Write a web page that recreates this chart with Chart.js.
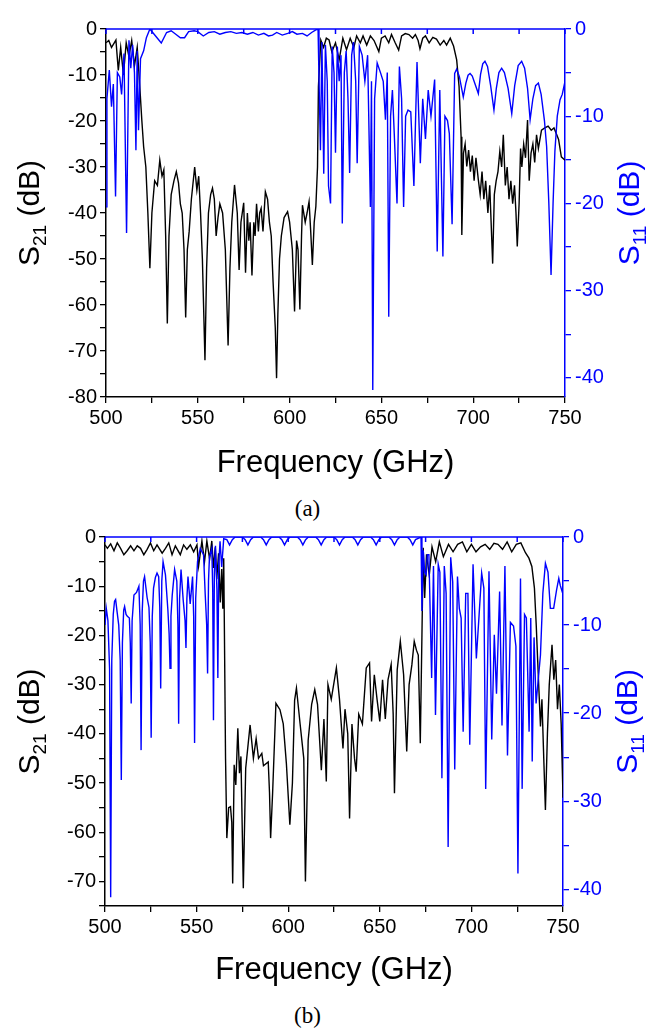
<!DOCTYPE html>
<html>
<head>
<meta charset="utf-8">
<script src="https://cdn.jsdelivr.net/npm/chart.js@4.4.1/dist/chart.umd.min.js"></script>
<style>
  body { margin: 0; background: #fff; }
  #page { position: relative; width: 649px; height: 1032px; background: #fff; }
  canvas { position: absolute; left: 0; }
  .cap { position: absolute; left: -17px; width: 649px; text-align: center;
         font-family: "Liberation Serif", "Times New Roman", serif; font-size: 23px; line-height: 24px; }
</style>
</head>
<body>
<div id="page">
  <canvas id="chartA" width="649" height="482" style="top:0px"></canvas>
  <div class="cap" style="top:497px">(a)</div>
  <canvas id="chartB" width="649" height="482" style="top:507px"></canvas>
  <div class="cap" style="top:1004px">(b)</div>
</div>
<script>
Chart.defaults.font.family = '"Liberation Sans", Arial, sans-serif';
Chart.defaults.color = '#000';

const BLUE = '#0000ff';

// (a) S21, frequency in GHz and value in dB
const freqA21 = [
  500, 501.5, 503, 504.5, 505.4, 506.7, 508, 509.5, 511, 512.5,
  514, 515.5, 517, 518.4, 519.5, 520.5, 521.7, 522.8, 523.9, 525,
  526.5, 528, 529.3, 530.5, 531.5, 532.5, 533.4, 534.3, 535.5, 537,
  538.3, 539.5, 540.5, 541.5, 542.5, 543.4, 544.3, 545.3, 546.5, 548.3,
  549.5, 550.5, 551.5, 552.5, 553.9, 554.8, 555.8, 557, 558, 559,
  560, 561, 562, 563.5, 565, 566.5, 567.5, 568.5, 570, 571.5,
  572.5, 573.5, 575, 576, 577, 577.8, 578.5, 579.5, 580.5, 581.2,
  582, 583, 583.7, 584.5, 585.5, 586.8, 588, 589, 590, 591,
  592.2, 592.9, 593.6, 594.5, 595.5, 597, 598.9, 600, 601.5, 602.7,
  603.8, 604.6, 605.6, 606.5, 607, 608.5, 609.5, 610.6, 611.5, 612.4,
  613.4, 614.3, 615.2, 615.7, 617, 618.5, 620, 621.5, 623, 625,
  627, 629, 631, 633, 635, 636.5, 638.5, 640, 642, 644,
  646, 648.6, 650, 652, 654, 655.5, 657.5, 659.4, 661, 663,
  665, 667, 668.5, 670, 671, 672.5, 674, 676, 678, 680,
  682, 684, 685.5, 687.5, 689.3, 691, 692.3, 693.4, 693.8, 694.7,
  695.6, 696.5, 697.5, 698.5, 699.5, 700.5, 701.5, 702.8, 703.8, 704.8,
  705.8, 706.8, 708, 709, 710.6, 711.5, 712.5, 713.5, 714.5, 715.5,
  716.4, 717.5, 718.5, 719.5, 720.5, 721.5, 722.5, 723.3, 724, 725,
  725.8, 726.5, 727.5, 728.5, 729.6, 730.5, 731.5, 732.5, 733.5, 734.5,
  735.5, 737.2, 739, 740.8, 742.5, 744, 745.5, 746.5, 748, 750
];
const s21A = [
  -3, -2.5, -4, -3, -2.4, -9, -4, -10, -3, -6,
  -2.5, -8, -4, -12.5, -19.8, -25.6, -30, -40, -52, -40,
  -33, -34, -28.5, -32, -30.6, -45, -64, -45, -36, -33,
  -31, -33.5, -38, -40, -48, -62.7, -48, -44, -37, -30,
  -35, -32, -40, -50, -72, -52, -40, -36, -34.6, -37,
  -45, -41, -38, -40, -48, -68.8, -52, -42, -33.9, -40,
  -52.4, -42, -37.8, -53, -40, -46, -42, -53.6, -42, -45,
  -38, -44, -40, -39, -44, -35.4, -37, -42, -45, -55,
  -65, -75.9, -62, -50, -45, -41, -39.7, -42, -48, -61.4,
  -46, -48, -61, -45, -38.3, -42, -40, -37.5, -44, -51.3,
  -42, -38.6, -30, -12.5, -2.4, -4, -2, -2.4, -5, -3,
  -6.7, -2, -4.5, -2, -4, -1.5, -3, -1.5, -3.5, -1.5,
  -2.5, -4.9, -2, -1.5, -3, -1.2, -3, -4.6, -1.5, -1,
  -1.2, -2, -1.2, -2.5, -4.3, -2, -1.5, -3, -1.8, -2.2,
  -3.5, -2.5, -3.5, -2, -3.7, -6.7, -12.5, -23.4, -44.8, -27,
  -25, -29.9, -26.3, -31, -27.5, -33, -28, -32.8, -36, -31,
  -37, -33, -40, -34, -51, -36, -33, -31, -26.6, -30,
  -23, -34, -30, -37, -33, -38, -34, -40, -47.3, -38,
  -26, -30, -25, -28, -19.8, -33, -27, -25, -29, -23,
  -26, -22, -21.5, -21.1, -22, -21.5, -23, -24, -27.8, -28.5
];

// (a) S11
const freqA11 = [
  500, 500.5, 501.8, 503, 504, 505.2, 506.2, 507.5, 508.5, 509.8,
  511.2, 512.5, 513.5, 514.5, 515.5, 516.3, 517, 517.7, 518.8, 520.5,
  522, 523.9, 527, 530.1, 533, 535.5, 538, 540.5, 542.8, 545,
  548, 550, 553, 556, 559, 562, 565, 568, 571, 574,
  577, 580, 583, 586, 588.5, 590.7, 593, 596, 599, 601.5,
  604, 607, 609.5, 612, 614.3, 615.5, 616, 616.8, 617.6, 618.6,
  619.5, 620.5, 621.2, 622.3, 623.2, 624.2, 625, 626, 627, 628,
  628.7, 629.8, 630.8, 631.8, 632.7, 633.8, 634.8, 636, 636.8, 638,
  639.5, 641, 642.5, 644, 644.6, 645.3, 646.3, 647.7, 649.5, 651,
  652.2, 653.2, 654, 655, 656, 657, 658.5, 659.8, 661, 662.1,
  663.2, 664.5, 666, 667.7, 669.4, 671.2, 672.5, 674, 675.5, 677,
  679, 680.4, 681.8, 683.5, 684.6, 686, 687, 688.5, 689.9, 691,
  692.5, 694.6, 696, 697.2, 698.3, 699.5, 701, 702.8, 704, 705.2,
  706.4, 707.8, 709.5, 711.3, 712.6, 714, 715.5, 717, 719, 721,
  722.6, 724.5, 726.4, 728, 729.6, 731, 732.5, 734, 735.5, 737,
  738.8, 740, 741.2, 742.4, 743.5, 744.5, 745.8, 747.3, 748.5, 750
];
const s11A = [
  -20.4, -8, -4.7, -8.9, -6.3, -19.2, -5, -5.5, -7.5, -2.8,
  -23.4, -1.3, -4.5, -1.8, -5, -13.9, -2.5, -11.6, -3.4, -2.5,
  -1, 0, -0.8, -1.6, -0.4, -0.2, -0.6, -1, -1, -0.3,
  -0.2, -0.3, -0.8, -0.4, -0.3, -0.6, -0.4, -0.3, -0.5, -0.4,
  -0.6, -0.4, -0.7, -0.5, -0.8, -0.7, -0.4, -0.7, -0.5, -0.3,
  -0.6, -0.5, -0.8, -0.4, -0.1, 0, -5.5, -13.9, -1.5, -16.6,
  -1.8, -6, -18, -20, -2, -5, -14.2, -2, -6, -3,
  -22.3, -5, -2.5, -8, -16.5, -3, -1.5, -6, -15.4, -2,
  -3, -6, -3, -20.4, -6, -41.4, -8, -3.9, -5, -6,
  -10.4, -5, -33, -10, -7, -12, -20, -4.3, -8, -20.4,
  -10, -9.3, -9.5, -18, -3.8, -15.4, -8, -12.6, -7, -10,
  -5.8, -25.5, -7, -26.1, -10, -10.5, -12, -22.4, -5.1, -4.6,
  -5.5, -7.8, -6.2, -5.3, -5.1, -5.4, -6.3, -7.4, -5.2, -4,
  -3.7, -4.3, -6.5, -9.3, -6.8, -5, -4.5, -5, -6.8, -9.7,
  -6.5, -4.2, -3.7, -4.5, -6.8, -10.4, -8, -6.5, -6.2, -7.5,
  -10.5, -13.5, -20, -28.2, -20, -14, -10, -8.1, -7.5, -6
];

// (b) S21
const freqB21 = [
  500, 501.3, 503.1, 504.9, 506.7, 508.5, 510.3, 512.1, 514, 515.8,
  517.6, 519.4, 521.2, 523, 524.8, 526.6, 528.4, 531.2, 533, 534.8,
  536.6, 538.4, 541.1, 542.9, 544.7, 546.6, 548.4, 550.2, 551.1, 552.9,
  554.3, 555.6, 557.1, 558.3, 559.2, 560.2, 561, 562, 562.9, 563.7,
  564.3, 564.8, 565.2, 565.8, 566.5, 567.5, 568.5, 569.2, 569.7, 570.5,
  571.4, 572.5, 573.4, 574.2, 575.5, 576.8, 579.2, 581, 582.5, 583.8,
  585.6, 586.5, 589.1, 589.8, 590.4, 591.5, 593.3, 595.5, 597.3, 599,
  600.9, 602.3, 603.5, 604.5, 606.5, 608.5, 609.4, 610.9, 612.8, 614.5,
  616, 618.1, 619.5, 620.8, 621.7, 623.5, 626.3, 628, 629.9, 631,
  632.5, 633.5, 634.8, 636.2, 637.1, 638.5, 640.5, 642.6, 644.4, 645.5,
  647, 648.5, 650, 651.5, 653, 654.5, 656.2, 657.3, 658, 659.5,
  661.2, 663, 664.7, 666, 667.5, 668.8, 670, 671, 672.1, 673,
  673.7, 674.5, 675.5, 677, 678.5, 680.5, 682.5, 684.7, 687.5, 690,
  692.5, 695.1, 697.5, 700, 702.5, 705, 707.5, 710, 712.3, 714.5,
  717, 719.5, 722, 724.5, 727, 729.5, 731.4, 733, 734.4, 735.4,
  736.2, 737.7, 738.5, 739.5, 740.4, 741.5, 742.5, 744, 745, 746,
  747, 748, 749, 750
];
const s21B = [
  -1.6, -2.3, -1.4, -2.8, -1.2, -2.3, -3.6, -2.8, -1.8, -2.8,
  -1.8, -2.3, -3.6, -2.5, -1.2, -2.8, -1.6, -3.3, -2.3, -1.2,
  -3.6, -1.8, -3.6, -1.6, -2.5, -1.6, -3, -1.6, -5.9, -0.8,
  -5.1, -0.8, -4.5, -0.8, -6.3, -2.1, -8.6, -3.3, -13.3, -6.5,
  -14.6, -4.3, -20, -45, -61.2, -55, -54.8, -58, -70.4, -46.3,
  -50.4, -38.9, -48, -44.6, -71.4, -47, -38.2, -45, -41, -45,
  -44, -46.5, -45.7, -52, -61.2, -52, -33.8, -35.1, -38, -46,
  -58.5, -50, -33.2, -30.7, -38, -45, -70, -41.3, -34, -31,
  -34, -47.4, -37, -49.7, -30, -33, -26.6, -33, -43, -35,
  -40, -57.2, -38, -45, -47.7, -36, -38, -26.6, -25.6, -37.5,
  -28, -33, -37.5, -29, -37, -29, -25.9, -36, -52.1, -27,
  -21.2, -28, -43.6, -30, -26, -21.2, -23, -24, -41.9, -20,
  -2.2, -12.4, -3.5, -7.8, -2, -5, -1, -4, -1.5, -3,
  -1.5, -1, -3, -1.5, -3, -2, -1.5, -2.5, -1.3, -1.5,
  -2.5, -1, -3, -1.5, -1.2, -3.2, -4.3, -6, -10.4, -18,
  -25.3, -38.5, -33, -45, -55.5, -40, -30, -21.9, -29, -25,
  -35, -30, -38, -53
];

// (b) S11
const freqB11 = [
  500, 500.7, 501.6, 502.5, 503.1, 503.7, 504.5, 505.2, 505.8, 506.6,
  507.5, 508.3, 508.9, 509.5, 510.2, 510.7, 511.5, 512.2, 513.3, 513.8,
  514.3, 514.8, 515.8, 517.2, 518.5, 519.2, 519.7, 520.3, 521, 521.6,
  523, 524, 524.7, 525.2, 525.8, 526.5, 527.5, 528.4, 529.3, 529.9,
  530.4, 531, 531.7, 533, 534.3, 535, 535.5, 536, 536.7, 538,
  539.2, 539.8, 540.2, 540.7, 541.5, 542.7, 543.7, 544.2, 544.7, 545.3,
  546.5, 547.8, 548.4, 548.9, 549.5, 550.5, 552, 553.8, 554.7, 555.5,
  556, 556.5, 557, 558.3, 558.8, 559.2, 559.7, 560.3, 561.1, 561.6,
  562.1, 562.8, 563.7, 564.8, 566.5, 568, 569.5, 571, 575, 576.5,
  578, 579.5, 581, 585, 586.5, 588, 589.5, 591, 595, 596.5,
  598, 599.5, 601, 605, 606.5, 608, 609.5, 611, 615, 616.5,
  618, 619.5, 621, 625, 626.5, 628, 629.5, 631, 635, 636.5,
  638, 639.5, 641, 645, 646.5, 648, 649.5, 651, 655, 656.5,
  658, 659.5, 661, 665, 666.5, 668, 669.5, 672.5, 673, 673.7,
  674.5, 675.3, 676, 676.8, 678.3, 679.3, 680.4, 681.9, 682.8, 683.9,
  685.2, 686.2, 687.3, 688.7, 689.8, 690.9, 692.4, 693.4, 694.4, 695.5,
  696.9, 698.1, 699.1, 700.9, 702.7, 704.1, 705.6, 706.8, 707.8, 709.6,
  711.1, 712.5, 713.7, 715.4, 716.7, 718.3, 719.7, 721.3, 723, 724.3,
  725.4, 726.8, 727.7, 729, 730, 731.5, 732.4, 733.2, 734.2, 735.3,
  737.7, 739, 740.4, 741.8, 743.1, 744.9, 746.5, 747.7, 748.5, 750
];
const s11B = [
  -10, -8.1, -9.5, -15, -40.9, -14, -8.8, -7.3, -7.1, -8.5,
  -10, -14, -27.6, -12, -8.3, -7.9, -8.8, -9, -9.2, -12,
  -18.9, -9.5, -6.6, -6.3, -5.6, -10, -24.2, -8.5, -5, -4.5,
  -6.9, -8, -12, -22.8, -9, -5.8, -4.6, -4.1, -4.5, -8,
  -17.2, -5, -2.8, -4.3, -8.2, -11, -14.9, -9, -6.6, -3.7,
  -5, -10, -21.2, -7, -3.7, -7.2, -9.5, -12.6, -7, -4.5,
  -7.6, -4.5, -9, -23.4, -7, -2.8, -1.3, -2, -6.5, -10,
  -15.5, -5, -2.3, -1.3, -6, -20.8, -4, -1, -6, -16,
  -3, -0.5, -3.4, -0.2, -0.3, -0.9, -0.3, 0, 0, -0.3,
  -0.9, -0.3, 0, 0, -0.3, -0.9, -0.3, 0, 0, -0.3,
  -0.9, -0.3, 0, 0, -0.3, -0.9, -0.3, 0, 0, -0.3,
  -0.9, -0.3, 0, 0, -0.3, -0.9, -0.3, 0, 0, -0.3,
  -0.9, -0.3, 0, 0, -0.3, -0.9, -0.3, 0, 0, -0.3,
  -0.9, -0.3, 0, 0, -0.3, -0.9, -0.3, 0, -8.4, -1.5,
  -4, -4.3, -2, -2, -16, -3.3, -20.2, -3.1, -4, -27.4,
  -3.3, -6.4, -35.2, -2.3, -5.1, -26.4, -4.5, -8.1, -9.2, -22.1,
  -6.4, -6.4, -23.6, -3.1, -13.8, -9.2, -4.1, -5.8, -28.6, -3.9,
  -23, -11.1, -17.8, -6.2, -21.4, -3.3, -24.8, -9.7, -10.1, -12.4,
  -38.2, -4.7, -28.6, -8.8, -9.2, -22.1, -9.2, -25.5, -11.4, -18.9,
  -13.4, -6.4, -3, -4, -8.1, -8.1, -6, -4.7, -5.5, -6.5
];

function pairs(xs, ys) {
  return xs.map((x, i) => ({ x: x, y: ys[i] }));
}

// rotated axis title "S" + subscript + " (dB)"
function drawRotTitle(ctx, sub, x, cy, color) {
  const big = '30px "Liberation Sans", Arial, sans-serif';
  const small = '19px "Liberation Sans", Arial, sans-serif';
  ctx.save();
  ctx.translate(x, cy);
  ctx.rotate(-Math.PI / 2);
  ctx.fillStyle = color;
  ctx.textBaseline = 'alphabetic';
  ctx.textAlign = 'left';
  ctx.font = big;
  const w1 = ctx.measureText('S').width;
  const w3 = ctx.measureText(' (dB)').width;
  ctx.font = small;
  const w2 = ctx.measureText(sub).width;
  let px = -(w1 + w2 + w3) / 2;
  ctx.font = big;
  ctx.fillText('S', px, 0);
  ctx.font = small;
  ctx.fillText(sub, px + w1, 7);
  ctx.font = big;
  ctx.fillText(' (dB)', px + w1 + w2, 0);
  ctx.restore();
}

const frameAndTitles = {
  id: 'frameAndTitles',
  afterDatasetsDraw(chart) {
    const ctx = chart.ctx, area = chart.chartArea, xs = chart.scales.x;
    ctx.save();
    ctx.strokeStyle = BLUE;
    ctx.lineWidth = 1.5;
    ctx.beginPath();
    ctx.moveTo(area.left, area.top);
    ctx.lineTo(area.right, area.top);
    xs.ticks.forEach(t => {
      const px = xs.getPixelForValue(t.value);
      ctx.moveTo(px, area.top);
      ctx.lineTo(px, area.top + 5);
    });
    ctx.stroke();
    ctx.restore();
  },
  afterDraw(chart, args, opts) {
    const area = chart.chartArea;
    const cy = (area.top + area.bottom) / 2;
    drawRotTitle(chart.ctx, '21', opts.leftX, cy, '#000');
    drawRotTitle(chart.ctx, '11', area.right + opts.rightGap, cy, BLUE);
  }
};

function makeChart(id, s21, s11, box) {
  const H = 482;
  const tickFont = { size: 20 };
  return new Chart(document.getElementById(id), {
    type: 'line',
    data: {
      datasets: [
        { data: s11, yAxisID: 'y2', borderColor: BLUE, borderWidth: 1.4,
          pointRadius: 0, tension: 0, order: 0 },
        { data: s21, yAxisID: 'y', borderColor: '#000', borderWidth: 1.4,
          pointRadius: 0, tension: 0, order: 1 }
      ]
    },
    options: {
      responsive: false,
      animation: false,
      events: [],
      layout: { padding: { top: box.top, left: 0, right: 0, bottom: 0 } },
      plugins: {
        legend: { display: false },
        tooltip: { enabled: false },
        frameAndTitles: { leftX: 39, rightGap: 74 }
      },
      scales: {
        x: {
          type: 'linear', min: 500, max: 750,
          afterFit: s => { s.height = H - box.bottom; },
          ticks: {
            stepSize: 25, autoSkip: false, maxRotation: 0, font: tickFont,
            color: '#000', padding: 3,
            callback: v => (v % 50 === 0 ? v : '')
          },
          grid: { drawOnChartArea: false, color: '#000', tickLength: 6, lineWidth: 1.3 },
          border: { color: '#000', width: 1.5 },
          title: { display: true, text: 'Frequency (GHz)', font: { size: 31 },
                   color: '#000', padding: 0 }
        },
        y: {
          position: 'left', min: box.yMin, max: 0,
          afterFit: s => { s.width = box.left; },
          ticks: {
            stepSize: 5, autoSkip: false, includeBounds: false, font: tickFont,
            color: '#000', padding: 3,
            callback: v => (v % 10 === 0 ? v : '')
          },
          grid: { drawOnChartArea: false, color: '#000', tickLength: 6, lineWidth: 1.3 },
          border: { color: '#000', width: 1.5 }
        },
        y2: {
          position: 'right', min: box.y2Min, max: 0,
          afterFit: s => { s.width = 649 - box.right; },
          ticks: {
            stepSize: 5, autoSkip: false, includeBounds: false, font: tickFont,
            color: BLUE, padding: 4,
            callback: v => (v % 10 === 0 ? v : '')
          },
          grid: { drawOnChartArea: false, color: BLUE, tickLength: 6, lineWidth: 1.3 },
          border: { color: BLUE, width: 1.5 }
        }
      }
    },
    plugins: [frameAndTitles]
  });
}

makeChart('chartA', pairs(freqA21, s21A), pairs(freqA11, s11A),
  { top: 29, bottom: 397, left: 106, right: 565, yMin: -80, y2Min: -42.2 });
makeChart('chartB', pairs(freqB21, s21B), pairs(freqB11, s11B),
  { top: 30, bottom: 399, left: 105, right: 563, yMin: -75, y2Min: -41.9 });
</script>
</body>
</html>
